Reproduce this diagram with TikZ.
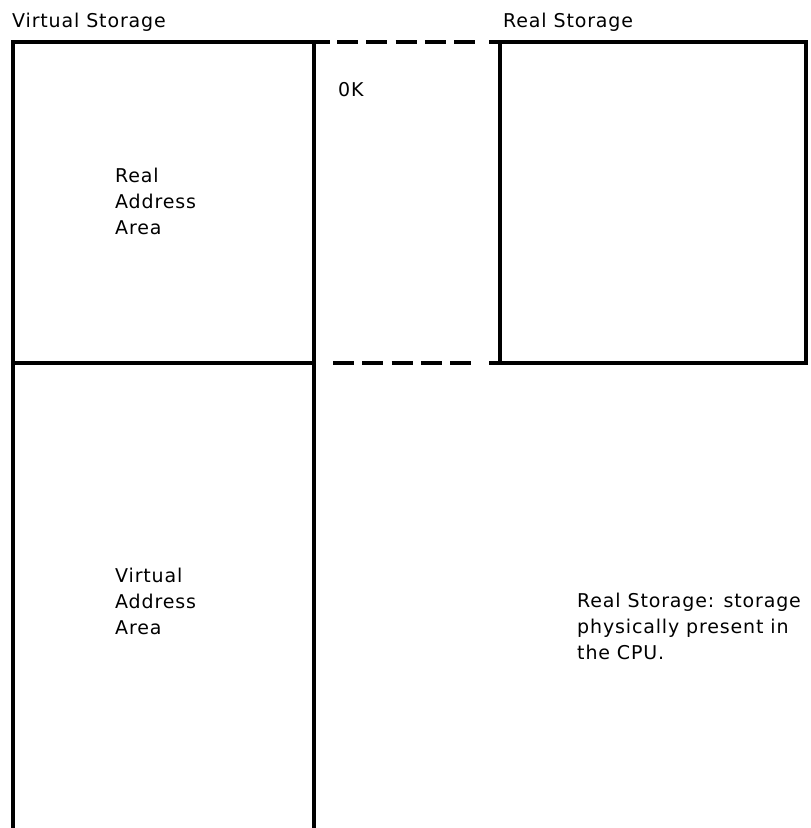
\documentclass[tikz,border=0pt]{standalone}
\usepackage{fontspec}
\setmainfont{DejaVu Sans}[LetterSpace=4.5]
\begin{document}
\begin{tikzpicture}[x=1bp,y=-1bp,
  edge/.style={line width=3.2bp, line cap=butt},
  dashedge/.style={line width=3.2bp, dash pattern=on 21bp off 8.25bp},
  lbl/.style={anchor=base west, inner sep=0pt, align=left, font=\fontsize{19bp}{26bp}\selectfont}]
\useasboundingbox (0,0) rectangle (811,828);
% virtual storage column
\coordinate (vtl) at (13,42);
\coordinate (vtr) at (314,42);
\coordinate (vml) at (13,363);
\coordinate (vmr) at (314,363);
\coordinate (vbl) at (13,830);
\coordinate (vbr) at (314,830);
\coordinate (vte) at (330,42);
\coordinate (vme) at (316,363);
% real storage box
\coordinate (rtl) at (500,42);
\coordinate (rtr) at (806,42);
\coordinate (rbl) at (500,363);
\coordinate (rbr) at (806,363);
\coordinate (rts) at (489,42);
\coordinate (rbs) at (489,363);
% dashed joins
\coordinate (dt1) at (337,42);
\coordinate (dt2) at (475,42);
\coordinate (db1) at (333,363);
\coordinate (db2) at (475,363);

\draw[edge] (vbl) -- (vtl) -- (vte);
\draw[edge] (vtr) -- (vbr);
\draw[edge] (vml) -- (vme);
\draw[edge] (rts) -- (rtr) -- (rbr) -- (rbs);
\draw[edge] (rtl) -- (rbl);
\draw[dashedge] (dt1) -- (dt2);
\draw[dashedge] (db1) -- (db2);

\node[lbl] (vs) at (12,27) {Virtual Storage};
\node[lbl] (rs) at (503,27) {Real Storage};
\node[lbl] (ok) at (338,96) {0K};
\node[lbl] (raa) at (115,234) {Real\\Address\\Area};
\node[lbl] (vaa) at (115,634) {Virtual\\Address\\Area};
\node[lbl] (def) at (577,659) {Real Storage: storage\\physically present in\\the CPU.};
\end{tikzpicture}
\end{document}
